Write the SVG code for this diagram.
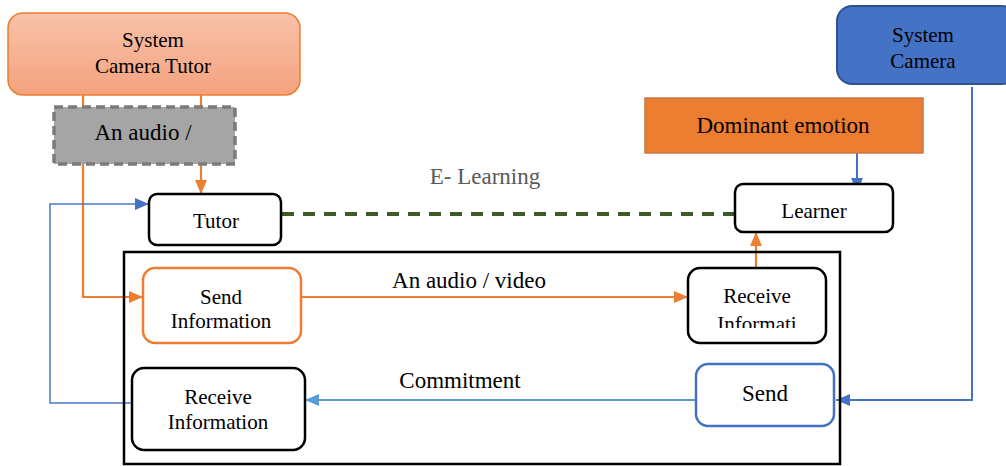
<svg xmlns="http://www.w3.org/2000/svg" width="1006" height="466" viewBox="0 0 1006 466">
<style>
text{fill:#000;text-anchor:middle}
.node{fill:#fff;stroke:#000;stroke-width:2.5}
.or{fill:none;stroke:#ed7d31;stroke-width:2.2}
.bl{fill:none;stroke:#4472c4;stroke-width:2}
</style>
<defs>
<linearGradient id="gOr" x1="0" y1="0" x2="0" y2="1">
<stop offset="0" stop-color="#f8c2aa"/>
<stop offset="1" stop-color="#f4a27e"/>
</linearGradient>
<marker id="aOr" markerUnits="userSpaceOnUse" viewBox="0 0 14 12" refX="14" refY="6" markerWidth="14" markerHeight="12" orient="auto">
<path d="M0,0L14,6L0,12Z" fill="#ed7d31"/>
</marker>
<marker id="aBl" markerUnits="userSpaceOnUse" viewBox="0 0 14 12" refX="14" refY="6" markerWidth="14" markerHeight="12" orient="auto">
<path d="M0,0L14,6L0,12Z" fill="#4472c4"/>
</marker>
<marker id="aLb" markerUnits="userSpaceOnUse" viewBox="0 0 14 12" refX="14" refY="6" markerWidth="14" markerHeight="12" orient="auto">
<path d="M0,0L14,6L0,12Z" fill="#5b9bd5"/>
</marker>
<clipPath id="clipRI"><rect x="688" y="268" width="138" height="60"/></clipPath>
</defs>

<g id="connectors">
<line x1="83" y1="95" x2="83" y2="107" class="or"/>
<polyline points="83,164 83,297 143,297" class="or" marker-end="url(#aOr)"/>
<line x1="201" y1="95" x2="201" y2="107" class="or"/>
<line x1="201" y1="164" x2="201" y2="194" class="or" marker-end="url(#aOr)"/>
<polyline points="133,403 50,403 50,204 149,204" fill="none" stroke="#4a78c9" stroke-width="1.5" marker-end="url(#aBl)"/>
<line x1="282" y1="214" x2="735" y2="214" stroke="#3d5b27" stroke-width="4" stroke-dasharray="12,9"/>
<line x1="301" y1="297" x2="688" y2="297" class="or" marker-end="url(#aOr)"/>
<line x1="756" y1="268" x2="756" y2="232" class="or" marker-end="url(#aOr)"/>
<line x1="857" y1="153" x2="857" y2="192" class="bl" marker-end="url(#aBl)"/>
<polyline points="972,87 972,400 836,400" class="bl" marker-end="url(#aBl)"/>
<line x1="696" y1="400" x2="305" y2="400" fill="none" stroke="#5b9bd5" stroke-width="2.2" marker-end="url(#aLb)"/>
<text x="485" y="184" font-family="Liberation Serif" font-size="23" fill="#595959" style="fill:#595959">E- Learning</text>
<text x="469" y="288" font-family="Liberation Serif" font-size="23">An audio / video</text>
<text x="460" y="388" font-family="Liberation Serif" font-size="23">Commitment</text>
</g>

<g id="system-camera-tutor">
<rect x="8" y="13" width="292" height="82" rx="15" fill="url(#gOr)" stroke="#ed7d31" stroke-width="1.5"/>
<text x="153" y="47" font-family="Liberation Serif" font-size="21">System</text>
<text x="153" y="73" font-family="Liberation Serif" font-size="21">Camera Tutor</text>
</g>

<g id="audio-box">
<rect x="54" y="107" width="181" height="57" fill="#a5a5a5" stroke="#7b7b7b" stroke-width="3.5" stroke-dasharray="9,5"/>
<text x="143" y="140" font-family="Liberation Serif" font-size="23">An audio /</text>
</g>

<g id="tutor">
<rect x="149" y="194" width="132" height="51" rx="8" class="node"/>
<text x="216" y="228" font-family="Liberation Serif" font-size="21">Tutor</text>
</g>

<g id="frame">
<rect x="124" y="252" width="716" height="212" fill="none" stroke="#000" stroke-width="2.5"/>
</g>

<g id="send-information">
<rect x="143" y="268" width="158" height="75" rx="12" fill="#fff" stroke="#ed7d31" stroke-width="2.5"/>
<text x="221" y="304" font-family="Liberation Serif" font-size="21">Send</text>
<text x="221" y="328" font-family="Liberation Serif" font-size="21">Information</text>
</g>

<g id="receive-informati">
<rect x="688" y="268" width="138" height="75" rx="12" class="node"/>
<g clip-path="url(#clipRI)">
<text x="757" y="303" font-family="Liberation Serif" font-size="21">Receive</text>
<text x="757" y="331" font-family="Liberation Serif" font-size="21">Informati</text>
</g>
</g>

<g id="receive-information">
<rect x="132" y="368" width="173" height="82" rx="12" class="node"/>
<text x="218" y="404" font-family="Liberation Serif" font-size="21">Receive</text>
<text x="218" y="429" font-family="Liberation Serif" font-size="21">Information</text>
</g>

<g id="send">
<rect x="696" y="364" width="138" height="62" rx="12" fill="#fff" stroke="#4472c4" stroke-width="2.5"/>
<text x="765" y="401" font-family="Liberation Serif" font-size="23">Send</text>
</g>

<g id="learner">
<rect x="735" y="184" width="158" height="48" rx="8" class="node"/>
<text x="814" y="218" font-family="Liberation Serif" font-size="21">Learner</text>
</g>

<g id="dominant-emotion">
<rect x="645" y="98" width="278" height="55" fill="#ed7d31" stroke="#c8794a" stroke-width="1.5"/>
<text x="783" y="133" font-family="Liberation Serif" font-size="23">Dominant emotion</text>
</g>

<g id="system-camera">
<rect x="837" y="6" width="180" height="78" rx="15" fill="#4472c4" stroke="#2f528f" stroke-width="2"/>
<text x="923" y="42" font-family="Liberation Serif" font-size="21">System</text>
<text x="923" y="68" font-family="Liberation Serif" font-size="21">Camera</text>
</g>
</svg>
